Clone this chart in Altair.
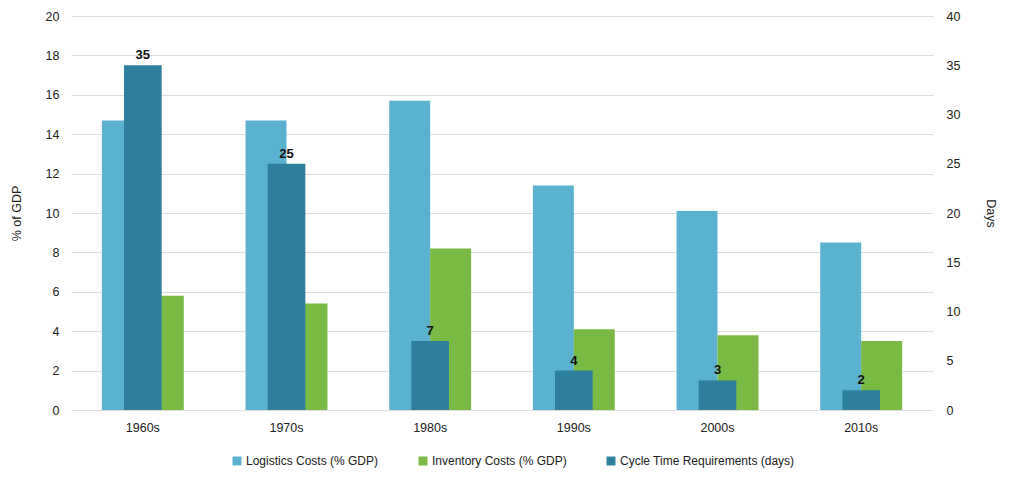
import altair as alt
import pandas as pd

decades = ["1960s", "1970s", "1980s", "1990s", "2000s", "2010s"]
logistics = [14.7, 14.7, 15.7, 11.4, 10.1, 8.5]
inventory = [5.8, 5.4, 8.2, 4.1, 3.8, 3.5]
cycle = [35, 25, 7, 4, 3, 2]

S_LOG = "Logistics Costs (% GDP)"
S_INV = "Inventory Costs (% GDP)"
S_CYC = "Cycle Time Requirements (days)"
series_order = [S_LOG, S_INV, S_CYC]
colors = ["#5BB1D0", "#7AB943", "#2E7F9C"]

gdp_df = pd.DataFrame(
    [{"decade": d, "series": S_LOG, "value": v} for d, v in zip(decades, logistics)]
    + [{"decade": d, "series": S_INV, "value": v} for d, v in zip(decades, inventory)]
)
cyc_df = pd.DataFrame({"decade": decades, "series": S_CYC, "value": cycle})

FONT = "Liberation Sans"
FS = 12.5

x_enc = alt.X("decade:N", sort=decades, title=None,
              scale=alt.Scale(paddingInner=0.43, paddingOuter=0.215),
              axis=alt.Axis(labelAngle=0, ticks=False, domain=False, labelPadding=11,
                            labelFontSize=FS, labelColor="#222", labelFont=FONT))
color_enc = alt.Color("series:N", title=None,
                      scale=alt.Scale(domain=series_order, range=colors),
                      legend=alt.Legend(orient="none", legendX=160, legendY=439,
                                        direction="horizontal",
                                        symbolType="square", symbolSize=80,
                                        symbolStrokeWidth=0, labelFontSize=12,
                                        labelColor="#222", labelFont=FONT,
                                        labelLimit=400,
                                        columnPadding=38, labelOffset=3))

gdp_bars = alt.Chart(gdp_df).mark_bar().encode(
    x=x_enc,
    xOffset=alt.XOffset("series:N", scale=alt.Scale(domain=[S_LOG, S_INV], paddingInner=0, paddingOuter=0)),
    y=alt.Y("value:Q", title="% of GDP",
            scale=alt.Scale(domain=[0, 20]),
            axis=alt.Axis(values=list(range(0, 21, 2)), ticks=False, domain=False,
                          gridColor="#dddddd", labelFontSize=FS, labelColor="#222",
                          labelFont=FONT, labelPadding=12, titleFont=FONT,
                          titleFontSize=FS, titleFontWeight="normal", titleColor="#222",
                          titlePadding=22)),
    color=color_enc,
)

cyc_base = alt.Chart(cyc_df).encode(
    x=x_enc,
    y=alt.Y("value:Q", title="Days",
            scale=alt.Scale(domain=[0, 40]),
            axis=alt.Axis(orient="right", values=list(range(0, 41, 5)), ticks=False,
                          domain=False, grid=False, labelFontSize=FS, labelColor="#222",
                          labelFont=FONT, labelPadding=13, titleFont=FONT,
                          titleFontSize=FS, titleFontWeight="normal", titleColor="#222",
                          titlePadding=24)),
)
cyc_bars = cyc_base.mark_bar(width=alt.RelativeBandSize(0.46)).encode(color=color_enc)
cyc_text = cyc_base.mark_text(dy=-10, fontWeight="bold", fontSize=13, font=FONT,
                              color="#111").encode(text="value:Q")

chart = alt.layer(gdp_bars, alt.layer(cyc_bars, cyc_text)).resolve_scale(
    y="independent"
).properties(
    width=862, height=394,
    autosize=alt.AutoSizeParams(type="none"),
    padding={"left": 71, "top": 16, "right": 91, "bottom": 70},
).configure_view(stroke=None)

chart.save("out.html", embed_options={"renderer": "svg", "actions": False})
